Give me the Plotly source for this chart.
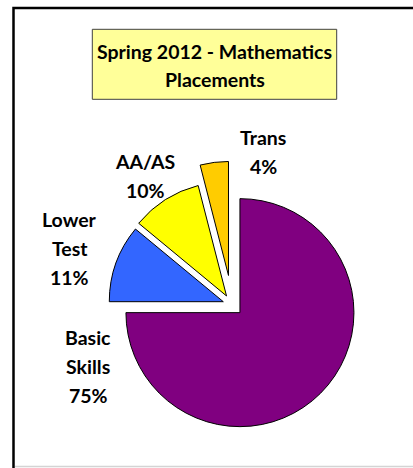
import plotly.graph_objects as go

# ---- data ----
categories = ["Basic Skills", "Lower Test", "AA/AS", "Trans"]
values = [75, 11, 10, 4]
title_lines = ["Spring 2012 - Mathematics", "Placements"]

# ---- styles ----
colors = ["#800080", "#3366FF", "#FFFF00", "#FFCC00"]
pulls = [0.096, 0.083, 0.093, 0.26]
W, H = 413, 468
FONT = "Lato"
FSIZE = 19.5

# label anchor positions in pixels (center x, first line y)
label_pos = [(88, 337), (69.5, 219.5), (145, 161), (263, 137.7)]
LINE_STEP = 29

def px(x):
    return x / W

def py(y):
    return 1 - y / H

# pie domain: square box centred on pie centre
cx, cy, side = 232.2, 304.9, 287.3
dom_x = [px(cx - side / 2), px(cx + side / 2)]
dom_y = [py(cy + side / 2), py(cy - side / 2)]

fig = go.Figure(go.Pie(
    labels=categories,
    values=values,
    sort=False,
    direction="clockwise",
    rotation=0,
    pull=pulls,
    marker=dict(colors=colors, line=dict(color="black", width=1)),
    textinfo="none",
    hoverinfo="label+percent",
    domain=dict(x=dom_x, y=dom_y),
    showlegend=False,
))

total = sum(values)
annotations = []
for cat, v, (x, y) in zip(categories, values, label_pos):
    lines = cat.split(" ") if cat != "AA/AS" else [cat]
    lines = lines + [f"{round(v / total * 100)}%"]
    for i, line in enumerate(lines):
        annotations.append(dict(
            x=px(x), y=py(y + i * LINE_STEP), xref="paper", yref="paper",
            text=f"<b>{line}</b>", showarrow=False,
            xanchor="center", yanchor="middle",
            font=dict(family=FONT, size=FSIZE, color="black"),
        ))

title_y = [51, 79]
for t, y in zip(title_lines, title_y):
    annotations.append(dict(
        x=px(214.5), y=py(y), xref="paper", yref="paper",
        text=f"<b>{t}</b>", showarrow=False,
        xanchor="center", yanchor="middle",
        font=dict(family=FONT, size=FSIZE, color="black"),
    ))

shapes = [
    # outer chart frame
    dict(type="rect", xref="paper", yref="paper",
         x0=px(13.5), x1=px(430), y0=py(490), y1=py(8),
         line=dict(color="black", width=2.5), fillcolor="rgba(0,0,0,0)", layer="below"),
    # bottom gray rule
    dict(type="line", xref="paper", yref="paper",
         x0=px(15), x1=px(413), y0=py(466.5), y1=py(466.5),
         line=dict(color="#D4D4D4", width=1.5)),
    # title box
    dict(type="rect", xref="paper", yref="paper",
         x0=px(92.3), x1=px(336.7), y0=py(99.3), y1=py(29.3),
         line=dict(color="#404040", width=1), fillcolor="#FFFF99", layer="below"),
]

fig.update_layout(
    width=W, height=H,
    margin=dict(l=0, r=0, t=0, b=0),
    paper_bgcolor="white",
    plot_bgcolor="white",
    annotations=annotations,
    shapes=shapes,
)

fig.write_html(
    "out.html",
    config={"displayModeBar": False},
    post_script="document.body.style.margin='0';document.body.style.overflow='hidden';",
)
